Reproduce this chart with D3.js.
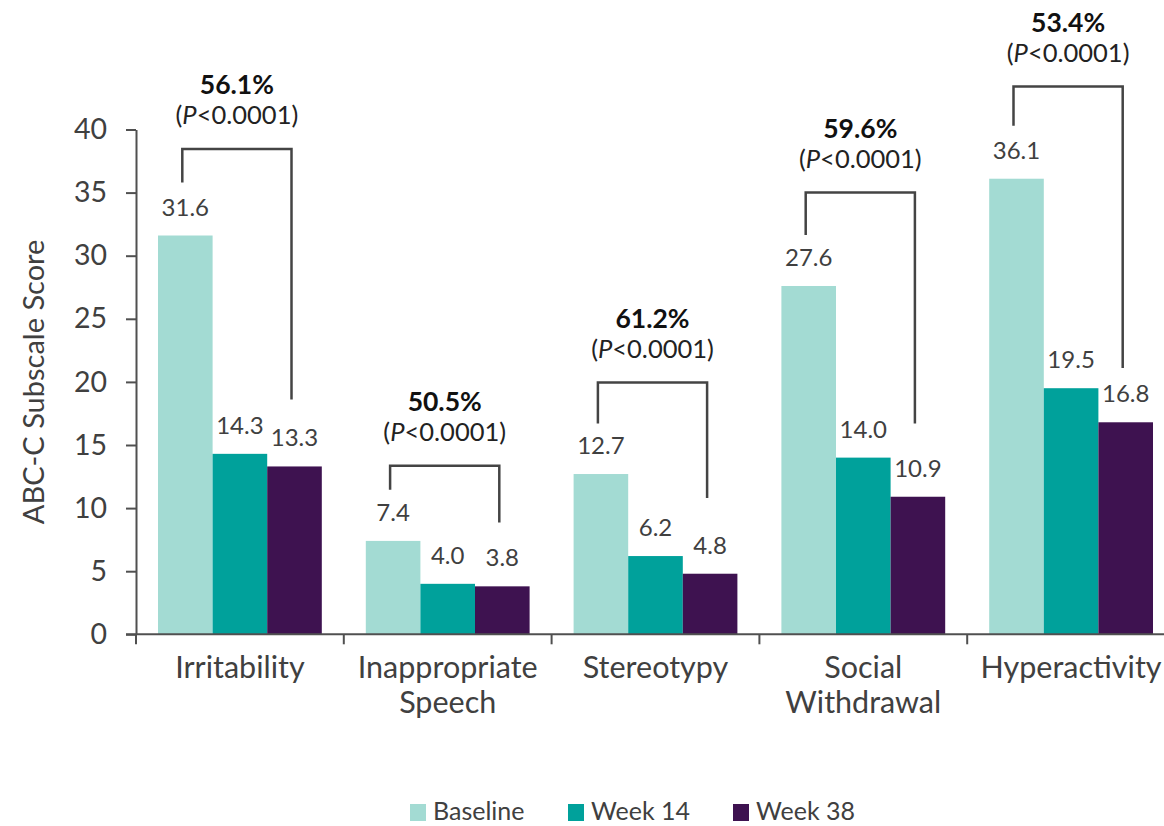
<!DOCTYPE html>
<html>
<head>
<meta charset="utf-8">
<script src="https://cdn.jsdelivr.net/npm/d3@7"></script>
<style>
  html, body { margin: 0; padding: 0; background: #fff; }
  svg { display: block; font-family: Lato, "Open Sans", sans-serif; }
</style>
</head>
<body>
<svg id="chart" width="1164" height="826"></svg>
<script>
// ---- data ----
const categories = [["Irritability"], ["Inappropriate", "Speech"], ["Stereotypy"], ["Social", "Withdrawal"], ["Hyperactivity"]];
const seriesNames = ["Baseline", "Week 14", "Week 38"];
const baseline = [31.6, 7.4, 12.7, 27.6, 36.1];
const week14   = [14.3, 4.0, 6.2, 14.0, 19.5];
const week38   = [13.3, 3.8, 4.8, 10.9, 16.8];
const reductionLabels = ["56.1%", "50.5%", "61.2%", "59.6%", "53.4%"];
const pLabel = "<0.0001";
// bracket levels (in score units): top, left end, right end
const bracketTop   = [38.45, 13.35, 19.95, 35.0, 43.4];
const bracketLeft  = [35.8, 11.45, 16.7, 31.65, 40.3];
const bracketRight = [18.6, 8.85, 10.8, 16.7, 21.1];
const yTicks = [0, 5, 10, 15, 20, 25, 30, 35, 40];
const yTitle = "ABC-C Subscale Score";

const colors = ["#a3dbd3", "#00a19b", "#3e1250"];
const textColor = "#404040";
const lineColor = "#505050";

const svg = d3.select("#chart");
const catKeys = categories.map(c => c.join(" "));
const values = [baseline, week14, week38];

const left = 136, bandW = 207.8;
const x0 = d3.scaleBand().domain(catKeys).range([left, left + bandW * catKeys.length]).padding(0);
const x1 = d3.scaleBand().domain(seriesNames).range([22, bandW - 22]).padding(0);
const y = d3.scaleLinear().domain([0, 40]).range([634.3, 129.5]);

// bars
catKeys.forEach((ck, ci) => {
  const g = svg.append("g").attr("transform", `translate(${x0(ck)},0)`);
  seriesNames.forEach((s, si) => {
    const v = values[si][ci];
    g.append("rect")
      .attr("x", x1(s)).attr("width", x1.bandwidth())
      .attr("y", y(v)).attr("height", y(0) - y(v))
      .attr("fill", colors[si]);
    g.append("text")
      .attr("x", x1(s) + x1.bandwidth() / 2)
      .attr("y", y(v) - 20)
      .attr("text-anchor", "middle")
      .attr("font-size", 24)
      .attr("fill", textColor)
      .text(v.toFixed(1));
  });
  // bracket
  const xl = x1("Baseline") + x1.bandwidth() / 2 - 3;
  const xr = x1("Week 38") + x1.bandwidth() / 2 - 3;
  const path = d3.path();
  path.moveTo(xl, y(bracketLeft[ci]));
  path.lineTo(xl, y(bracketTop[ci]));
  path.lineTo(xr, y(bracketTop[ci]));
  path.lineTo(xr, y(bracketRight[ci]));
  g.append("path").attr("d", path.toString())
    .attr("fill", "none").attr("stroke", "#444").attr("stroke-width", 2.5);
  const xc = (xl + xr) / 2;
  g.append("text")
    .attr("x", xc).attr("y", y(bracketTop[ci]) - 55)
    .attr("text-anchor", "middle").attr("font-size", 26.5).attr("font-weight", "bold")
    .attr("fill", "#111")
    .text(reductionLabels[ci]);
  const pt = g.append("text")
    .attr("x", xc).attr("y", y(bracketTop[ci]) - 25)
    .attr("text-anchor", "middle").attr("font-size", 25.5).attr("fill", "#222");
  pt.append("tspan").text("(");
  pt.append("tspan").attr("font-style", "italic").text("P");
  pt.append("tspan").text(pLabel + ")");
});

// y axis
const yAxis = d3.axisLeft(y).tickValues(yTicks).tickSize(10).tickSizeOuter(0).tickPadding(19);
const yg = svg.append("g").attr("transform", `translate(${left},0)`).call(yAxis);
yg.select(".domain").attr("stroke", lineColor).attr("stroke-width", 2);
yg.selectAll(".tick line").attr("stroke", lineColor).attr("stroke-width", 2);
yg.selectAll(".tick text").attr("font-size", 28.5).attr("fill", textColor).attr("font-family", "Lato, sans-serif");

// x axis
const xEdges = catKeys.map(k => x0(k)).concat([x0.range()[1]]);
const xg = svg.append("g");
xg.append("line")
  .attr("x1", left - 10).attr("x2", x0.range()[1])
  .attr("y1", y(0)).attr("y2", y(0))
  .attr("stroke", lineColor).attr("stroke-width", 2);
xg.selectAll("line.tick").data(xEdges).join("line").attr("class", "tick")
  .attr("x1", d => d).attr("x2", d => d)
  .attr("y1", y(0)).attr("y2", y(0) + 10)
  .attr("stroke", lineColor).attr("stroke-width", 2);
categories.forEach((lines, ci) => {
  const t = xg.append("text")
    .attr("x", x0(catKeys[ci]) + x0.bandwidth() / 2)
    .attr("y", 678)
    .attr("text-anchor", "middle").attr("font-size", 30.5).attr("fill", textColor);
  lines.forEach((ln, li) => {
    t.append("tspan").attr("x", x0(catKeys[ci]) + x0.bandwidth() / 2)
      .attr("dy", li === 0 ? 0 : 35).text(ln);
  });
});

// y title
svg.append("text")
  .attr("transform", `translate(44,${(y(0) + y(40)) / 2}) rotate(-90)`)
  .attr("text-anchor", "middle").attr("font-size", 29).attr("fill", textColor)
  .text(yTitle);

// legend
const legendX = [410, 568, 733];
const lg = svg.append("g");
seriesNames.forEach((s, i) => {
  lg.append("rect").attr("x", legendX[i]).attr("y", 804).attr("width", 16).attr("height", 17).attr("fill", colors[i]);
  lg.append("text").attr("x", legendX[i] + 23).attr("y", 820)
    .attr("font-size", 25).attr("fill", textColor).text(s);
});
</script>
</body>
</html>
